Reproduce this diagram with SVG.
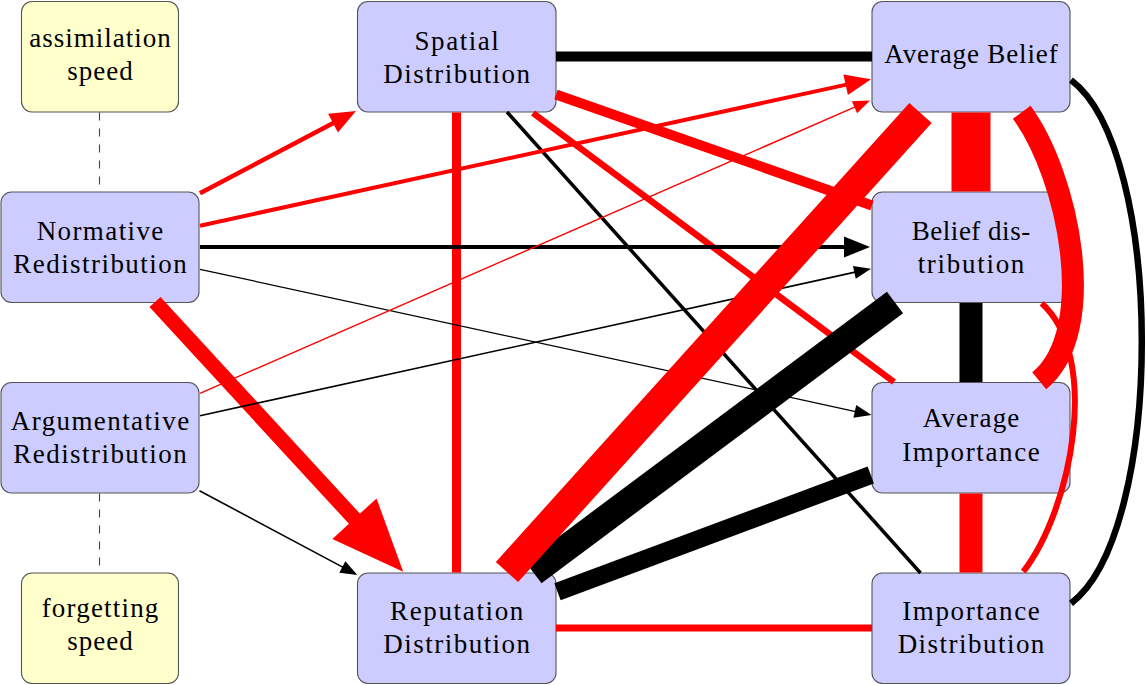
<svg xmlns="http://www.w3.org/2000/svg" width="1146" height="685" viewBox="0 0 1146 685">
<defs>
<style>
.node rect{stroke:#555;stroke-width:1.1}
.blue{fill:#ccccff}
.yellow{fill:#ffffcc}
text{font-family:"Liberation Serif","Times New Roman",serif;font-size:27px;fill:#000;text-anchor:middle}
.e{fill:none;stroke-linecap:butt}
.r{stroke:#ff0000}
.k{stroke:#000000}
.dash{stroke:#444;stroke-width:1.1;stroke-dasharray:8 8;fill:none}
</style>
<marker id="hRbig" markerUnits="userSpaceOnUse" markerWidth="80" markerHeight="70" refX="2" refY="0" orient="auto" overflow="visible"><path d="M0,-30 L72,0 L0,30 z" fill="#ff0000"/></marker>
<marker id="hRmed" markerUnits="userSpaceOnUse" markerWidth="30" markerHeight="24" refX="2" refY="0" orient="auto" overflow="visible"><path d="M0,-10.5 L26,0 L0,10.5 z" fill="#ff0000"/></marker>
<marker id="hRsm" markerUnits="userSpaceOnUse" markerWidth="20" markerHeight="16" refX="2" refY="0" orient="auto" overflow="visible"><path d="M0,-6.5 L17,0 L0,6.5 z" fill="#ff0000"/></marker>
<marker id="hKmed" markerUnits="userSpaceOnUse" markerWidth="30" markerHeight="24" refX="2" refY="0" orient="auto" overflow="visible"><path d="M0,-10.5 L26,0 L0,10.5 z" fill="#000000"/></marker>
<marker id="hKsm" markerUnits="userSpaceOnUse" markerWidth="20" markerHeight="16" refX="2" refY="0" orient="auto" overflow="visible"><path d="M0,-6.5 L17,0 L0,6.5 z" fill="#000000"/></marker>
</defs>
<rect width="1146" height="685" fill="#ffffff"/>

<g id="assimilation-speed" class="node"><rect class="yellow" x="21.5" y="1.5" width="157" height="110.5" rx="10.5"/><text x="100" y="46.7" textLength="141.7">assimilation</text><text x="100" y="80" textLength="65.7">speed</text></g>
<g id="normative-redistribution" class="node"><rect class="blue" x="1" y="192" width="198" height="110.5" rx="10.5"/><text x="100" y="240" textLength="126.7">Normative</text><text x="100" y="273.3" textLength="173.3">Redistribution</text></g>
<g id="argumentative-redistribution" class="node"><rect class="blue" x="1" y="382.5" width="198" height="110.5" rx="10.5"/><text x="100" y="430" textLength="178.3">Argumentative</text><text x="100" y="463.3" textLength="173.3">Redistribution</text></g>
<g id="forgetting-speed" class="node"><rect class="yellow" x="21.5" y="573" width="157" height="110.5" rx="10.5"/><text x="100" y="617" textLength="116.7">forgetting</text><text x="100" y="650" textLength="65.7">speed</text></g>
<g id="spatial-distribution" class="node"><rect class="blue" x="357.5" y="1.5" width="198.5" height="110.5" rx="10.5"/><text x="456.7" y="50" textLength="84.3">Spatial</text><text x="456.7" y="83" textLength="146.7">Distribution</text></g>
<g id="reputation-distribution" class="node"><rect class="blue" x="357.5" y="573" width="198.5" height="110.5" rx="10.5"/><text x="456.7" y="620" textLength="133.3">Reputation</text><text x="456.7" y="653.3" textLength="146.7">Distribution</text></g>
<g id="average-belief" class="node"><rect class="blue" x="872" y="1.5" width="198" height="110.5" rx="10.5"/><text x="971" y="63.3" textLength="173.3">Average Belief</text></g>
<g id="belief-distribution" class="node"><rect class="blue" x="872" y="192" width="198" height="110.5" rx="10.5"/><text x="971" y="240" textLength="118.3">Belief dis-</text><text x="971" y="273.3" textLength="106.7">tribution</text></g>
<g id="average-importance" class="node"><rect class="blue" x="872" y="382.5" width="198" height="110.5" rx="10.5"/><text x="971" y="427.3" textLength="96.7">Average</text><text x="971" y="460.7" textLength="137.7">Importance</text></g>
<g id="importance-distribution" class="node"><rect class="blue" x="872" y="573" width="198" height="110.5" rx="10.5"/><text x="971" y="620" textLength="137.7">Importance</text><text x="971" y="653.3" textLength="146.7">Distribution</text></g>

<g id="connectors">
<line class="dash" x1="99.5" y1="112.5" x2="99.5" y2="191.5"/>
<line class="dash" x1="99.5" y1="493.5" x2="99.5" y2="572.5"/>

<line class="e r" stroke-width="9" x1="456.5" y1="112.5" x2="456.5" y2="572.5"/>
<line class="e k" stroke-width="10" x1="556" y1="56.5" x2="872" y2="56.5"/>
<line class="e k" stroke-width="3.5" x1="507" y1="112" x2="920.5" y2="573"/>
<line class="e r" stroke-width="10" x1="556" y1="94.5" x2="872" y2="205.5"/>
<line class="e r" stroke-width="6.5" x1="533" y1="113" x2="894" y2="382"/>

<line class="e r" stroke-width="4.5" x1="200" y1="193.3" x2="334.8" y2="122.2" marker-end="url(#hRmed)"/>
<line class="e r" stroke-width="4" x1="200" y1="225.7" x2="847.6" y2="84.4" marker-end="url(#hRmed)"/>
<line class="e k" stroke-width="4" x1="200" y1="247" x2="846" y2="247" marker-end="url(#hKmed)"/>
<line class="e k" stroke-width="1.2" x1="200" y1="269.3" x2="856.8" y2="411.8" marker-end="url(#hKsm)"/>
<line class="e r" stroke-width="15" x1="155" y1="302" x2="355.8" y2="520.2" marker-end="url(#hRbig)"/>
<line class="e r" stroke-width="1.4" x1="200" y1="393.3" x2="856.3" y2="106.4" marker-end="url(#hRsm)"/>
<line class="e k" stroke-width="1.6" x1="200" y1="415.7" x2="856.3" y2="271.9" marker-end="url(#hKsm)"/>
<line class="e k" stroke-width="1.6" x1="199.5" y1="490.7" x2="344.1" y2="567.9" marker-end="url(#hKsm)"/>

<line class="e k" stroke-width="23" x1="971" y1="303" x2="971" y2="382"/>
<line class="e r" stroke-width="23" x1="971" y1="493.5" x2="971" y2="572.5"/>
<line class="e k" stroke-width="27" x1="533.4" y1="572.5" x2="895" y2="302.5"/>
<line class="e k" stroke-width="18" x1="557.5" y1="591.7" x2="870.8" y2="475"/>

<line class="e r" stroke-width="39" x1="971" y1="112.5" x2="971" y2="191.5"/>
<line class="e r" stroke-width="30" x1="507" y1="572" x2="920.5" y2="113"/>
<path class="e r" stroke-width="22" d="M1021.7,112.2 C1068.6,176 1100.2,330.8 1039.2,380.8"/>
<path class="e k" stroke-width="6.5" d="M1071,80 C1165.4,150.8 1165.4,532.5 1071,603.3"/>
<path class="e r" stroke-width="6" d="M1041.7,303.3 C1100.9,356.9 1072.1,508.5 1023.3,571.7"/>
<line class="e r" stroke-width="7" x1="556" y1="628" x2="872" y2="628"/>
</g>
</svg>
